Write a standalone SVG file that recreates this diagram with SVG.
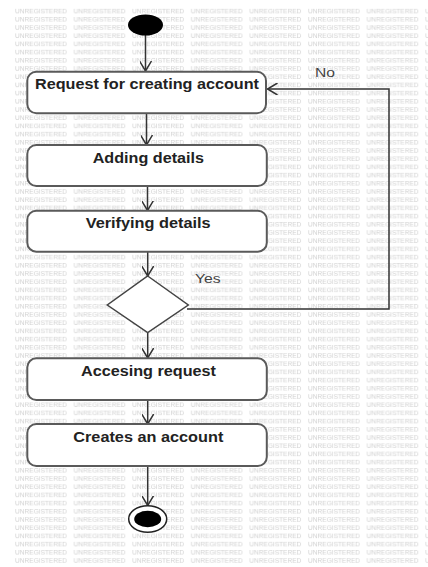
<svg xmlns="http://www.w3.org/2000/svg" width="428" height="567" viewBox="0 0 428 567">
<defs>
<style>
.wm{font-family:"Liberation Sans",Arial,sans-serif;font-size:6.6px;fill:#d0d0d0}
.box{fill:#fff;stroke:#5a5a5a;stroke-width:2}
.lbl{font-family:"Liberation Sans",Arial,sans-serif;font-size:15px;font-weight:bold;fill:#222}
.guard{font-family:"Liberation Sans",Arial,sans-serif;font-size:13px;fill:#444}
.edge{fill:none;stroke:#333;stroke-width:1.5}
</style>
<pattern id="wmp" patternUnits="userSpaceOnUse" x="15" y="7" width="58.6" height="8.2">
<text class="wm" x="0" y="6.4" textLength="52" lengthAdjust="spacingAndGlyphs">UNREGISTERED</text>
</pattern>
<marker id="arr" markerWidth="12" markerHeight="12" refX="10" refY="6" orient="auto" markerUnits="userSpaceOnUse">
<path d="M0,0 L10,6 L0,12" fill="none" stroke="#333" stroke-width="1.5"/>
</marker>
</defs>
<rect width="428" height="567" fill="#fff"/>
<rect x="15" y="7" width="413" height="556" fill="url(#wmp)"/>
<g id="connectors">
<line class="edge" x1="145.5" y1="35" x2="145.5" y2="71" marker-end="url(#arr)"/>
<line class="edge" x1="146.5" y1="113" x2="146.5" y2="145" marker-end="url(#arr)"/>
<line class="edge" x1="147.5" y1="186" x2="147.5" y2="210.5" marker-end="url(#arr)"/>
<line class="edge" x1="147.7" y1="252" x2="147.7" y2="276" marker-end="url(#arr)"/>
<line class="edge" x1="147.7" y1="333" x2="147.7" y2="358" marker-end="url(#arr)"/>
<line class="edge" x1="147.7" y1="400" x2="147.7" y2="424" marker-end="url(#arr)"/>
<line class="edge" x1="147.7" y1="466" x2="147.7" y2="505.5" marker-end="url(#arr)"/>
<polyline class="edge" points="187,309 389,309 389,89 267.5,89" marker-end="url(#arr)"/>
<text class="guard" x="195" y="283.3" textLength="25.7" lengthAdjust="spacingAndGlyphs">Yes</text>
<text class="guard" x="315" y="77.3" textLength="20" lengthAdjust="spacingAndGlyphs">No</text>
</g>
<g id="start"><ellipse cx="145.5" cy="25" rx="17.5" ry="10.5" fill="#000"/></g>
<g id="n1"><rect class="box" x="27.3" y="71.7" width="238.7" height="41.6" rx="9"/>
<text class="lbl" x="35" y="89" textLength="224" lengthAdjust="spacingAndGlyphs">Request for creating account</text></g>
<g id="n2"><rect class="box" x="27.3" y="145" width="239.5" height="41" rx="9"/>
<text class="lbl" x="92.7" y="162.7" textLength="111.3" lengthAdjust="spacingAndGlyphs">Adding details</text></g>
<g id="n3"><rect class="box" x="27.3" y="210.7" width="239.5" height="41" rx="9"/>
<text class="lbl" x="85.7" y="228.3" textLength="125" lengthAdjust="spacingAndGlyphs">Verifying details</text></g>
<g id="decision"><polygon points="147.7,276 188.3,305 147.7,332.7 107.3,305" fill="#fff" stroke="#444" stroke-width="1.5"/></g>
<g id="n4"><rect class="box" x="27.3" y="358.3" width="239.5" height="41.7" rx="9"/>
<text class="lbl" x="81" y="376" textLength="135" lengthAdjust="spacingAndGlyphs">Accesing request</text></g>
<g id="n5"><rect class="box" x="27.3" y="424" width="239.5" height="42" rx="9"/>
<text class="lbl" x="73.3" y="441.7" textLength="150" lengthAdjust="spacingAndGlyphs">Creates an account</text></g>
<g id="end"><ellipse cx="147.7" cy="519" rx="19" ry="13.3" fill="#fff" stroke="#222" stroke-width="1.5"/>
<ellipse cx="147.7" cy="519" rx="13.5" ry="8.3" fill="#000"/></g>
</svg>
